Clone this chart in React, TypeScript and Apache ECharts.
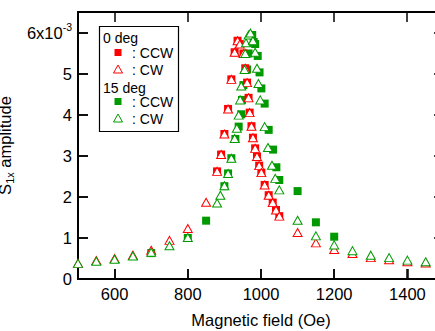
import React, { useEffect, useRef } from 'react';
import * as echarts from 'echarts';

const FONT = '"Liberation Sans", Arial, Helvetica, sans-serif';
const RED = '#ff0000';
const GREEN = '#009a00';
const AX_FS = 16.5;

// x: magnetic field (Oe), y: amplitude in units of 1e-3
const xRange = [500, 1500];
const yRange = [0, 6.5];
const xTicks = [600, 800, 1000, 1200, 1400];
const yTicks = [0, 1, 2, 3, 4, 5, 6];

const red0degCCW: [number, number][] = [
  [880, 2.62], [891, 3.03], [900, 3.53], [910, 4.14], [919, 4.86], [928, 5.52], [936, 5.80],
  [942, 5.72], [952, 5.49], [957, 5.13], [962, 4.78], [966, 4.41], [969, 4.05], [974, 3.72],
  [978, 3.44], [984, 3.18], [989, 2.98], [995, 2.76], [1001, 2.59], [1010, 2.29], [1021, 2.04],
  [1032, 1.86], [1041, 1.68], [1050, 1.53],
];

const red0degCW: [number, number][] = [
  [500, 0.38], [550, 0.45], [600, 0.50], [650, 0.58], [700, 0.70], [750, 0.94], [800, 1.23],
  [850, 1.87], [880, 2.62], [891, 3.03], [900, 3.53], [910, 4.14], [919, 4.86], [928, 5.52],
  [936, 5.80], [942, 5.72], [952, 5.49], [957, 5.13], [962, 4.78], [966, 4.41], [969, 4.05],
  [974, 3.72], [978, 3.44], [984, 3.18], [989, 2.98], [995, 2.76], [1001, 2.59], [1010, 2.29],
  [1021, 2.04], [1032, 1.86], [1041, 1.68], [1050, 1.53], [1100, 1.13], [1150, 0.88],
  [1200, 0.72], [1250, 0.62], [1300, 0.52], [1350, 0.47], [1400, 0.42], [1450, 0.39],
];

const green15degCCW: [number, number][] = [
  [700, 0.63], [800, 1.00], [850, 1.42], [900, 2.26], [910, 2.57], [919, 2.94], [930, 3.41],
  [939, 3.71], [946, 4.01], [948, 4.36], [952, 4.72], [962, 5.10], [966, 5.49], [976, 5.94],
  [980, 5.77], [984, 5.72], [991, 5.43], [996, 5.03], [1001, 4.64], [1010, 4.27], [1021, 3.63],
  [1033, 3.15], [1042, 2.72], [1050, 2.41], [1100, 2.14], [1150, 1.38], [1200, 1.03],
];

const green15degCW: [number, number][] = [
  [500, 0.38], [550, 0.43], [600, 0.48], [650, 0.56], [700, 0.65], [750, 0.81], [800, 1.01],
  [880, 1.85], [889, 2.04], [900, 2.27], [910, 2.57], [919, 2.94], [928, 3.42], [934, 3.67],
  [939, 3.99], [943, 4.36], [946, 4.70], [955, 5.10], [957, 5.49], [959, 5.75], [966, 5.94],
  [971, 5.99], [978, 5.80], [984, 5.52], [989, 5.13], [993, 4.76], [998, 4.36], [1010, 3.71],
  [1019, 3.20], [1030, 2.77], [1039, 2.45], [1050, 2.17], [1100, 1.43], [1150, 1.05],
  [1200, 0.83], [1250, 0.69], [1300, 0.58], [1350, 0.52], [1400, 0.46], [1450, 0.42],
];

const legendFont = `14px ${FONT}`;

function legendGroup(): any {
  const lx = 103;
  const mx = 118;
  const tx = 132;
  return {
    type: 'group', id: 'legend', z: 100,
    children: [
      { type: 'rect', shape: { x: 99.5, y: 26.5, width: 79, height: 105 }, style: { fill: '#fff', stroke: '#000', lineWidth: 1.2 } },
      { type: 'text', style: { x: lx, y: 38, text: '0 deg', font: legendFont, fill: '#000', verticalAlign: 'middle', align: 'left' } },
      { type: 'rect', shape: { x: mx - 3.5, y: 49, width: 7, height: 7 }, style: { fill: RED } },
      { type: 'text', style: { x: tx, y: 53, text: ': CCW', font: legendFont, fill: '#000', verticalAlign: 'middle', align: 'left' } },
      { type: 'polygon', shape: { points: [[mx, 65], [mx + 4.5, 73], [mx - 4.5, 73]] }, style: { fill: '#fff', stroke: RED, lineWidth: 1 } },
      { type: 'text', style: { x: tx, y: 70, text: ': CW', font: legendFont, fill: '#000', verticalAlign: 'middle', align: 'left' } },
      { type: 'text', style: { x: lx, y: 88, text: '15 deg', font: legendFont, fill: '#000', verticalAlign: 'middle', align: 'left' } },
      { type: 'rect', shape: { x: mx - 3.5, y: 98, width: 7, height: 7 }, style: { fill: GREEN } },
      { type: 'text', style: { x: tx, y: 101.5, text: ': CCW', font: legendFont, fill: '#000', verticalAlign: 'middle', align: 'left' } },
      { type: 'polygon', shape: { points: [[mx, 114], [mx + 4.5, 122], [mx - 4.5, 122]] }, style: { fill: '#fff', stroke: GREEN, lineWidth: 1 } },
      { type: 'text', style: { x: tx, y: 118.5, text: ': CW', font: legendFont, fill: '#000', verticalAlign: 'middle', align: 'left' } },
    ],
  };
}

function buildOption(): any {
  const squareSeries = (name: string, data: [number, number][], color: string) => ({
    name, type: 'scatter', data, symbol: 'rect', symbolSize: 8, z: 2,
    itemStyle: { color, opacity: 1 }, emphasis: { disabled: true }, silent: true,
  });
  const triSeries = (name: string, data: [number, number][], color: string) => ({
    name, type: 'scatter', data, symbol: 'triangle', symbolSize: [9, 8], z: 3,
    itemStyle: { color: '#ffffff', borderColor: color, borderWidth: 1, opacity: 1 },
    emphasis: { disabled: true }, silent: true,
  });

  const common = {
    type: 'value',
    splitNumber: 5,
    splitLine: { show: false },
    axisLine: { show: true, onZero: false, lineStyle: { color: '#000', width: 2 } },
    axisTick: { show: true, inside: true, length: 10, lineStyle: { color: '#000', width: 1.5 } },
  };

  return {
    animation: false,
    backgroundColor: '#ffffff',
    grid: { left: 78, top: 12, width: 366, height: 267, outerBoundsMode: 'none', show: false },
    xAxis: [
      {
        ...common, min: xRange[0], max: xRange[1], position: 'bottom',
        axisLabel: {
          show: true, customValues: xTicks, fontSize: AX_FS, color: '#000', fontFamily: FONT, margin: 6,
          formatter: (v: number) => String(v),
        },
        name: 'Magnetic field (Oe)', nameLocation: 'middle', nameGap: 32,
        nameTextStyle: { fontSize: AX_FS, color: '#000', fontFamily: FONT },
      },
    ],
    yAxis: [
      {
        ...common, min: yRange[0], max: yRange[1], position: 'left',
        axisLabel: {
          show: true, customValues: yTicks, margin: 6,
          formatter: (v: number) => (v === 6 ? '{b|6x10}{s|-3}' : '{b|' + v + '}'),
          rich: {
            b: { fontSize: AX_FS, color: '#000', fontFamily: FONT, lineHeight: 30, verticalAlign: 'middle' },
            s: { fontSize: 10.5, color: '#000', fontFamily: FONT, lineHeight: 10, verticalAlign: 'top', padding: [4, 0, 0, 0] },
          },
        },
        name: '{a|S}{sub|1x}{a| amplitude}', nameLocation: 'middle', nameGap: 36,
        nameTextStyle: {
          rich: {
            a: { fontSize: AX_FS, color: '#000', fontFamily: FONT, lineHeight: 22, verticalAlign: 'middle' },
            sub: { fontSize: 11, color: '#000', fontFamily: FONT, lineHeight: 10, verticalAlign: 'bottom' },
          },
        },
      },
    ],
    series: [
      squareSeries('15 deg CCW', green15degCCW, GREEN),
      squareSeries('0 deg CCW', red0degCCW, RED),
      triSeries('0 deg CW', red0degCW, RED),
      triSeries('15 deg CW', green15degCW, GREEN),
    ],
    graphic: [legendGroup()],
  };
}

// Plot frame and inward ticks, positioned through the chart's own axis scales.
function frameGroup(chart: any): any {
  const toPx = (x: number, y: number) => chart.convertToPixel({ gridIndex: 0 }, [x, y]) as number[];
  const [xl, yb] = toPx(xRange[0], yRange[0]);
  const [xr, yt] = toPx(xRange[1], yRange[1]);
  const L = Math.round(xl);
  const R = Math.round(xr);
  const B = Math.round(yb);
  const T = Math.round(yt);
  const st = { stroke: '#000', lineWidth: 1.5 };
  const children: any[] = [
    { type: 'rect', shape: { x: L, y: T, width: R - L, height: B - T }, style: { fill: 'none', stroke: '#000', lineWidth: 2 } },
  ];
  xTicks.forEach((v) => {
    const px = Math.round(toPx(v, 0)[0]);
    children.push({ type: 'line', shape: { x1: px, y1: B, x2: px, y2: B - 10 }, style: st });
    children.push({ type: 'line', shape: { x1: px, y1: T, x2: px, y2: T + 10 }, style: st });
  });
  yTicks.forEach((v) => {
    const py = Math.round(toPx(xRange[0], v)[1]);
    children.push({ type: 'line', shape: { x1: L, y1: py, x2: L + 10, y2: py }, style: st });
    children.push({ type: 'line', shape: { x1: R, y1: py, x2: R - 10, y2: py }, style: st });
  });
  return { type: 'group', id: 'frame', z: 90, silent: true, children };
}

export default function App() {
  const ref = useRef<HTMLDivElement>(null);
  useEffect(() => {
    document.body.style.margin = '0';
    document.body.style.overflow = 'hidden';
    const chart = echarts.init(ref.current!, null, { renderer: 'svg' });
    chart.setOption(buildOption());
    try {
      chart.setOption({ graphic: [legendGroup(), frameGroup(chart)] });
    } catch (e) {
      // keep the base chart if the frame cannot be computed
    }
    return () => { chart.dispose(); };
  }, []);
  return (
    <div style={{ position: 'fixed', left: 0, top: 0, width: 435, height: 331, overflow: 'hidden', background: '#fff' }}>
      <div ref={ref} style={{ position: 'absolute', left: 0, top: 0, width: 450, height: 331 }} />
    </div>
  );
}
